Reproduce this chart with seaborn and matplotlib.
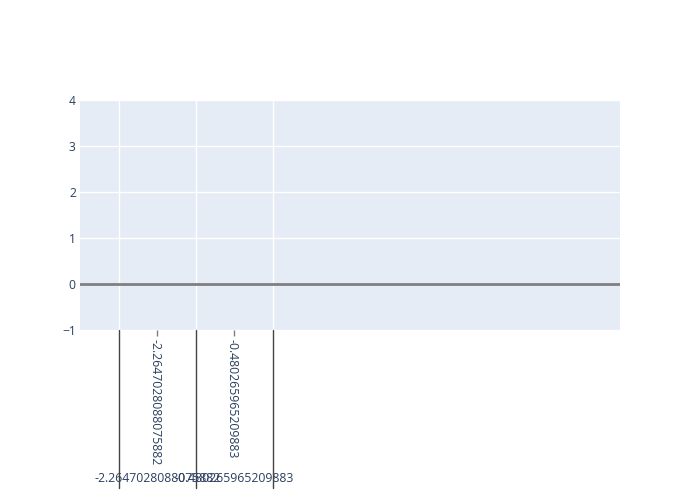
import matplotlib
matplotlib.use("Agg")
import matplotlib.pyplot as plt
import matplotlib.transforms as mtransforms
from matplotlib.lines import Line2D
import seaborn as sns
import pandas as pd

# Data
categories = ["-2.2647028088075882", "-0.480265965209883"]
outer_labels = ["-2.2647028088075882", "-0.480265965209883"]
values = [0, 0]
y_ticks = [-1, 0, 1, 2, 3, 4]

sns.set_theme(style="whitegrid", rc={
    "axes.facecolor": "#E5ECF6",
    "grid.color": "white",
    "axes.edgecolor": "#E5ECF6",
})
plt.rcParams['font.family'] = ['Open Sans', 'DejaVu Sans']

fig = plt.figure(figsize=(7, 5), dpi=100)
ax = fig.add_axes([80/700, 170/500, 540/700, 230/500])

df = pd.DataFrame({"cat": categories, "val": values})
sns.barplot(data=df, x="cat", y="val", ax=ax, color="#636EFA", linewidth=0, zorder=2)

ax.set_xlim(-1, 6)
ax.set_ylim(-1, 4)
ax.set_yticks(y_ticks)
ax.set_yticklabels([("\u2212" + str(-t)) if t < 0 else str(t) for t in y_ticks],
                   fontsize=8.7, color="#2a3f5f")
ax.set_xlabel("")
ax.set_ylabel("")

# category gridlines at boundaries
ax.set_xticks([0, 1])
ax.set_xticklabels(["", ""])
ax.set_xticks([-0.5, 0.5, 1.5], minor=True)
ax.grid(False, axis="x", which="major")
ax.grid(True, axis="x", which="minor", color="white", lw=1)
ax.grid(True, axis="y", which="major", color="white", lw=1)
ax.tick_params(axis="x", which="major", length=4, color="#7f7f7f", width=1, direction="out", bottom=True)
ax.tick_params(axis="x", which="minor", length=0)
ax.tick_params(axis="y", length=0, pad=3)
for s in ax.spines.values():
    s.set_visible(False)

ax.axhline(0, color="#7f7f7f", lw=2, zorder=3)

trans = mtransforms.blended_transform_factory(ax.transData, fig.transFigure)
for xb in [-0.5, 0.5, 1.5]:
    fig.add_artist(Line2D([xb, xb], [1 - 330/500, 1 - 488/500], transform=trans,
                          color="#444444", lw=1, clip_on=False))

for i, lab in enumerate(categories):
    ax.text(i - 0.03, 1 - 339/500, lab, transform=trans, rotation=-90, ha="center", va="top",
            fontsize=8.8, color="#2a3f5f", clip_on=False)
for i, lab in enumerate(outer_labels):
    ax.text(i, 1 - 479/500, lab, transform=trans, ha="center", va="center",
            fontsize=8.8, color="#2a3f5f", clip_on=False)

fig.savefig("out.png", dpi=100)
